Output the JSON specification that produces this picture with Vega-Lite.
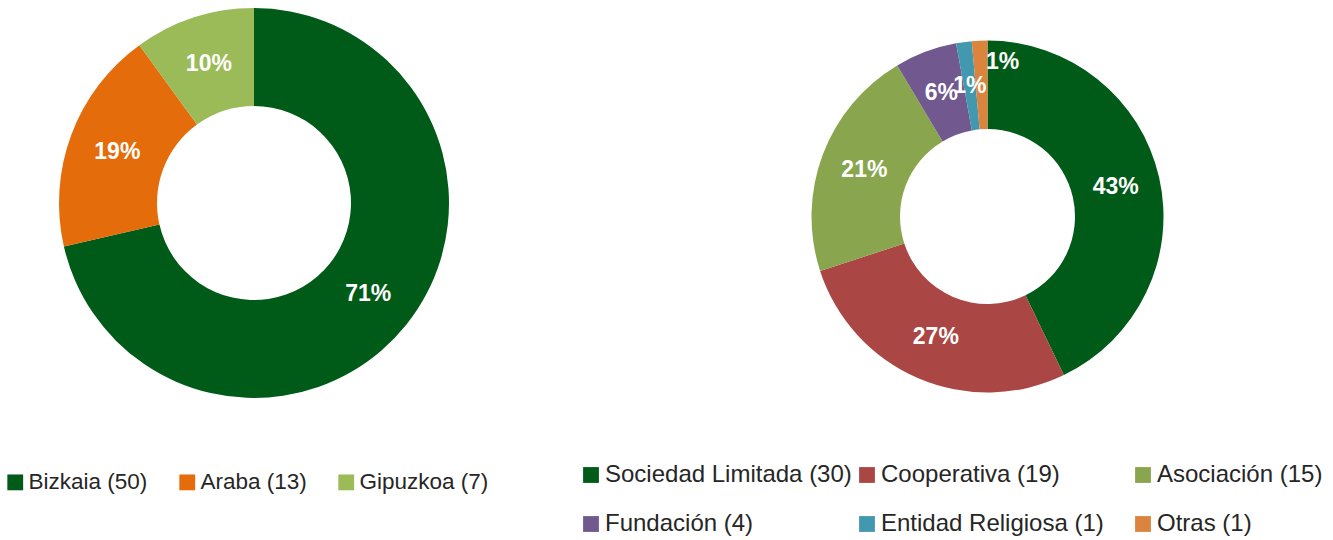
{
  "$schema": "https://vega.github.io/schema/vega-lite/v6.json",
  "padding": 0,
  "background": "white",
  "spacing": 134,
  "bounds": "flush",
  "config": {"view": {"stroke": null}, "font": "Liberation Sans"},
  "resolve": {"scale": {"color": "independent", "theta": "independent"}, "legend": {"color": "independent"}},
  "hconcat": [
    {
      "width": 508,
      "height": 406,
      "data": {"values": [
        {"provincia": "Bizkaia", "leyenda": "Bizkaia (50)", "n": 50, "pct": "71%"},
        {"provincia": "Araba", "leyenda": "Araba (13)", "n": 13, "pct": "19%"},
        {"provincia": "Gipuzkoa", "leyenda": "Gipuzkoa (7)", "n": 7, "pct": "10%"}
      ]},
      "encoding": {
        "theta": {"field": "n", "type": "quantitative", "stack": true},
        "order": {"field": "n", "type": "quantitative", "sort": "descending"}
      },
      "layer": [
        {
          "mark": {"type": "arc", "innerRadius": 97, "outerRadius": 195},
          "encoding": {
            "color": {
              "field": "leyenda", "type": "nominal", "sort": null,
              "scale": {"domain": ["Bizkaia (50)", "Araba (13)", "Gipuzkoa (7)"], "range": ["#005a18", "#e46c0a", "#9bbb59"]},
              "legend": {"orient": "none", "legendX": 4, "legendY": 471, "direction": "horizontal", "columns": 3, "title": null, "symbolType": "square", "symbolSize": 250, "symbolStrokeWidth": 0, "labelFontSize": 22.5, "labelFont": "Liberation Sans", "labelColor": "#262626", "labelOffset": 2, "columnPadding": 28, "padding": 0, "labelLimit": 400}
            }
          }
        },
        {
          "mark": {"type": "text", "radius": 146, "fontSize": 23, "fontWeight": "bold", "align": "center", "baseline": "middle"},
          "encoding": {
            "detail": {"field": "leyenda", "type": "nominal"},
            "color": {"value": "white"},
            "text": {"field": "pct", "type": "nominal"}
          }
        }
      ]
    },
    {
      "width": 691,
      "height": 433,
      "data": {"values": [
        {"forma": "Sociedad Limitada", "leyenda": "Sociedad Limitada (30)", "n": 30, "pct": "43%"},
        {"forma": "Cooperativa", "leyenda": "Cooperativa (19)", "n": 19, "pct": "27%"},
        {"forma": "Asociación", "leyenda": "Asociación (15)", "n": 15, "pct": "21%"},
        {"forma": "Fundación", "leyenda": "Fundación (4)", "n": 4, "pct": "6%"},
        {"forma": "Entidad Religiosa", "leyenda": "Entidad Religiosa (1)", "n": 1, "pct": "1%"},
        {"forma": "Otras", "leyenda": "Otras (1)", "n": 1, "pct": "1%"}
      ]},
      "encoding": {
        "theta": {"field": "n", "type": "quantitative", "stack": true},
        "order": {"field": "n", "type": "quantitative", "sort": "descending"}
      },
      "layer": [
        {
          "mark": {"type": "arc", "innerRadius": 87.5, "outerRadius": 176},
          "encoding": {
            "color": {
              "field": "leyenda", "type": "nominal", "sort": null,
              "scale": {"domain": ["Sociedad Limitada (30)", "Cooperativa (19)", "Asociación (15)", "Fundación (4)", "Entidad Religiosa (1)", "Otras (1)"], "range": ["#005a18", "#aa4643", "#89a54e", "#71588f", "#4198af", "#db843d"]},
              "legend": {"orient": "none", "legendX": -63, "legendY": 463, "direction": "horizontal", "columns": 3, "gridAlign": "all", "title": null, "symbolType": "square", "symbolSize": 250, "symbolStrokeWidth": 0, "labelFontSize": 24, "labelFont": "Liberation Sans", "labelColor": "#262626", "labelOffset": 2, "columnPadding": 3, "rowPadding": 25, "padding": 0, "labelLimit": 400}
            }
          }
        },
        {
          "mark": {"type": "text", "radius": 131.5, "fontSize": 23, "fontWeight": "bold", "align": "center", "baseline": "middle"},
          "encoding": {
            "detail": {"field": "leyenda", "type": "nominal"},
            "color": {"value": "white"},
            "text": {"field": "pct", "type": "nominal", "condition": {"test": "datum.forma === 'Otras'", "value": ""}}
          }
        },
        {
          "mark": {"type": "text", "radius": 131.5, "fontSize": 23, "fontWeight": "bold", "align": "center", "baseline": "middle", "dx": 21, "dy": -23},
          "encoding": {
            "detail": {"field": "leyenda", "type": "nominal"},
            "color": {"value": "white"},
            "text": {"field": "pct", "type": "nominal", "condition": {"test": "datum.forma !== 'Otras'", "value": ""}}
          }
        }
      ]
    }
  ]
}
